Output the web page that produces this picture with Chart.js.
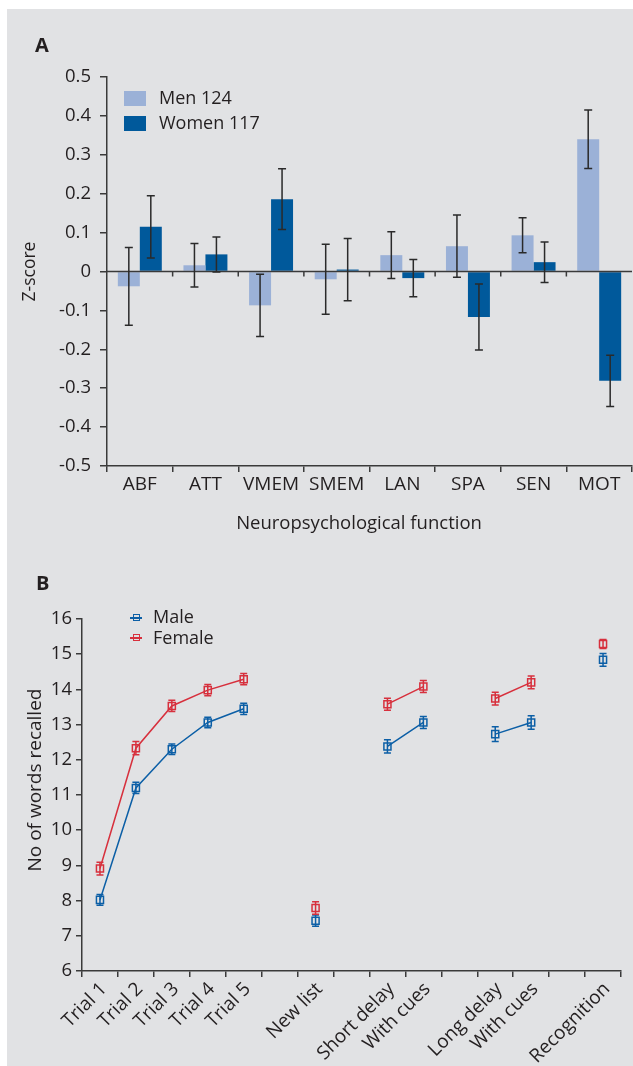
<!DOCTYPE html>
<html>
<head>
<meta charset="utf-8">
<script src="https://cdn.jsdelivr.net/npm/chart.js@4.4.1/dist/chart.umd.min.js"></script>
<style>
  html, body { margin: 0; padding: 0; background: #fff; }
  body { width: 633px; height: 1066px; position: relative; overflow: hidden; font-family: "Open Sans", sans-serif; color: #231f20; }
  #panel { position: absolute; left: 7px; top: 9px; width: 626px; height: 1057px; background: #e1e2e4; }
  canvas { position: absolute; left: 0; }
  #chartA { top: 0; }
  #chartB { top: 560px; }
  .lbl { position: absolute; font-weight: bold; font-size: 20px; line-height: 20px; }
  .leg { position: absolute; font-size: 18px; line-height: 18px; white-space: nowrap; }
  .sw { position: absolute; width: 22px; height: 15px; }
  .mk { position: absolute; width: 12px; height: 2px; }
  .mk i { position: absolute; left: 3px; top: -3px; width: 5px; height: 5px; border: 1.5px solid; }
  .ttl { position: absolute; width: 300px; text-align: center; white-space: nowrap; line-height: 20px; }
</style>
</head>
<body>
<div id="panel"></div>
<canvas id="chartA" width="633" height="560"></canvas>
<canvas id="chartB" width="633" height="506"></canvas>
<div class="lbl" style="left:35px; top:35px;">A</div>
<div class="lbl" style="left:36px; top:573px;">B</div>
<div class="sw" style="left:124px; top:91px; background:#9bb1d7;"></div>
<div class="leg" style="left:159px; top:88px;">Men 124</div>
<div class="sw" style="left:124px; top:116px; background:#00599b;"></div>
<div class="leg" style="left:159px; top:113px;">Women 117</div>
<div class="mk" style="left:130px; top:617px; background:#0c5fa6;"><i style="border-color:#0c5fa6;"></i></div>
<div class="leg" style="left:153px; top:607px;">Male</div>
<div class="mk" style="left:130px; top:637px; background:#d7303d;"><i style="border-color:#d7303d;"></i></div>
<div class="leg" style="left:153px; top:628px;">Female</div>
<div class="ttl" style="left:209px; top:512px; font-size:18.5px;">Neuropsychological function</div>
<div class="ttl" style="left:-116px; top:770px; font-size:19px; transform:rotate(-90deg);">No of words recalled</div>
<script>
// panel A
const functions = ["ABF", "ATT", "VMEM", "SMEM", "LAN", "SPA", "SEN", "MOT"];
const menZ = [-0.038, 0.016, -0.087, -0.020, 0.042, 0.065, 0.093, 0.340];
const menErr = [0.100, 0.056, 0.080, 0.090, 0.060, 0.080, 0.045, 0.075];
const womenZ = [0.115, 0.044, 0.186, 0.005, -0.017, -0.117, 0.024, -0.281];
const womenErr = [0.080, 0.045, 0.078, 0.080, 0.048, 0.085, 0.052, 0.066];

// panel B
const recallLabels = ["Trial 1", "Trial 2", "Trial 3", "Trial 4", "Trial 5", "", "New list", "",
    "Short delay", "With cues", "", "Long delay", "With cues", "", "Recognition"];
const maleWords = [8.02, 11.20, 12.30, 13.06, 13.45, null, 7.43, null, 12.38, 13.06, null, 12.73, 13.06, null, 14.84];
const maleErr = [0.15, 0.16, 0.15, 0.15, 0.16, null, 0.16, null, 0.19, 0.17, null, 0.21, 0.19, null, 0.18];
const femaleWords = [8.91, 12.33, 13.53, 13.98, 14.29, null, 7.79, null, 13.58, 14.08, null, 13.74, 14.20, null, 15.29];
const femaleErr = [0.18, 0.19, 0.16, 0.16, 0.16, null, 0.18, null, 0.17, 0.17, null, 0.18, 0.18, null, 0.13];

const ink = "#231f20";
const axisCol = "#3a3a3a";
Chart.defaults.font.family = "'Open Sans', sans-serif";
Chart.defaults.color = ink;
Chart.defaults.animation = false;

// error bars drawn from each dataset's errors array
const errorBars = {
    id: "errorBars",
    afterDatasetsDraw(chart, args, opts) {
        const ctx = chart.ctx;
        const y = chart.scales.y;
        chart.data.datasets.forEach((ds, di) => {
            const meta = chart.getDatasetMeta(di);
            ctx.save();
            ctx.strokeStyle = opts.color || ds.borderColor;
            ctx.lineWidth = opts.width || 1.5;
            meta.data.forEach((el, i) => {
                const v = ds.data[i], e = ds.errors[i];
                if (v === null || e === null) return;
                const x = el.x;
                const y1 = y.getPixelForValue(v + e);
                const y2 = y.getPixelForValue(v - e);
                const c = opts.cap;
                ctx.beginPath();
                ctx.moveTo(x, y1); ctx.lineTo(x, y2);
                ctx.moveTo(x - c, y1); ctx.lineTo(x + c, y1);
                ctx.moveTo(x - c, y2); ctx.lineTo(x + c, y2);
                ctx.stroke();
            });
            ctx.restore();
        });
    }
};

// zero line with small ticks between categories
const zeroLine = {
    id: "zeroLine",
    afterDatasetsDraw(chart) {
        const ctx = chart.ctx;
        const x = chart.scales.x, y = chart.scales.y;
        const y0 = y.getPixelForValue(0);
        ctx.save();
        ctx.strokeStyle = axisCol;
        ctx.lineWidth = 1.5;
        ctx.beginPath();
        ctx.moveTo(chart.chartArea.left, y0);
        ctx.lineTo(chart.chartArea.right, y0);
        for (let i = 1; i < functions.length; i++) {
            const px = x.getPixelForValue(i - 0.5);
            ctx.moveTo(px, y0);
            ctx.lineTo(px, y0 + 5);
        }
        ctx.stroke();
        ctx.restore();
    }
};

new Chart(document.getElementById("chartA"), {
    type: "bar",
    data: {
        labels: functions,
        datasets: [
            { label: "Men 124", data: menZ, errors: menErr, backgroundColor: "#9bb1d7" },
            { label: "Women 117", data: womenZ, errors: womenErr, backgroundColor: "#00599b" }
        ]
    },
    options: {
        responsive: false,
        layout: { padding: { top: 77, left: 0, right: 1, bottom: 0 } },
        categoryPercentage: 0.67,
        barPercentage: 1.0,
        plugins: {
            legend: { display: false },
            tooltip: { enabled: false },
            errorBars: { color: "#2a2a2a", width: 1.5, cap: 4 }
        },
        scales: {
            x: {
                afterFit: (s) => { s.height = 94; },
                grid: { offset: true, drawOnChartArea: false, drawTicks: true, tickLength: 6, color: axisCol, lineWidth: 1.5 },
                border: { display: true, color: axisCol, width: 1.5 },
                ticks: { font: { size: 19 }, padding: 1, color: ink }
            },
            y: {
                min: -0.5, max: 0.5,
                afterFit: (s) => { s.width = 107; },
                grid: { drawOnChartArea: false, drawTicks: true, tickLength: 7, color: axisCol, lineWidth: 1.5 },
                border: { display: true, color: axisCol, width: 1.5 },
                ticks: { stepSize: 0.1, font: { size: 18.5 }, padding: 9, color: ink },
                title: { display: true, text: "Z-score", font: { size: 17.5 }, padding: { top: 20 }, color: ink }
            }
        }
    },
    plugins: [zeroLine, errorBars]
});

new Chart(document.getElementById("chartB"), {
    type: "line",
    data: {
        labels: recallLabels,
        datasets: [
            { label: "Male", data: maleWords, errors: maleErr, borderColor: "#0c5fa6" },
            { label: "Female", data: femaleWords, errors: femaleErr, borderColor: "#d7303d" }
        ]
    },
    options: {
        responsive: false,
        layout: { padding: { top: 59, left: 0, right: 12, bottom: 0 } },
        spanGaps: false,
        elements: {
            line: { borderWidth: 1.5, tension: 0 },
            point: { pointStyle: "rect", radius: 5, borderWidth: 1.5, backgroundColor: "rgba(0,0,0,0)" }
        },
        plugins: {
            legend: { display: false },
            tooltip: { enabled: false },
            errorBars: { width: 1.5, cap: 3.5 }
        },
        scales: {
            x: {
                offset: true,
                afterFit: (s) => { s.height = 95; },
                grid: { offset: true, drawOnChartArea: false, drawTicks: true, tickLength: 6, color: axisCol, lineWidth: 1.5 },
                border: { display: true, color: axisCol, width: 1.5 },
                ticks: { font: { size: 19 }, padding: 1, labelOffset: 4, color: ink, minRotation: 45, maxRotation: 45, autoSkip: false }
            },
            y: {
                min: 6, max: 16,
                afterFit: (s) => { s.width = 82; },
                grid: { drawOnChartArea: false, drawTicks: true, tickLength: 6, color: axisCol, lineWidth: 1.5 },
                border: { display: true, color: axisCol, width: 1.5 },
                ticks: { stepSize: 1, font: { size: 18.5 }, padding: 4, color: ink }
            }
        }
    },
    plugins: [errorBars]
});
</script>
</body>
</html>
